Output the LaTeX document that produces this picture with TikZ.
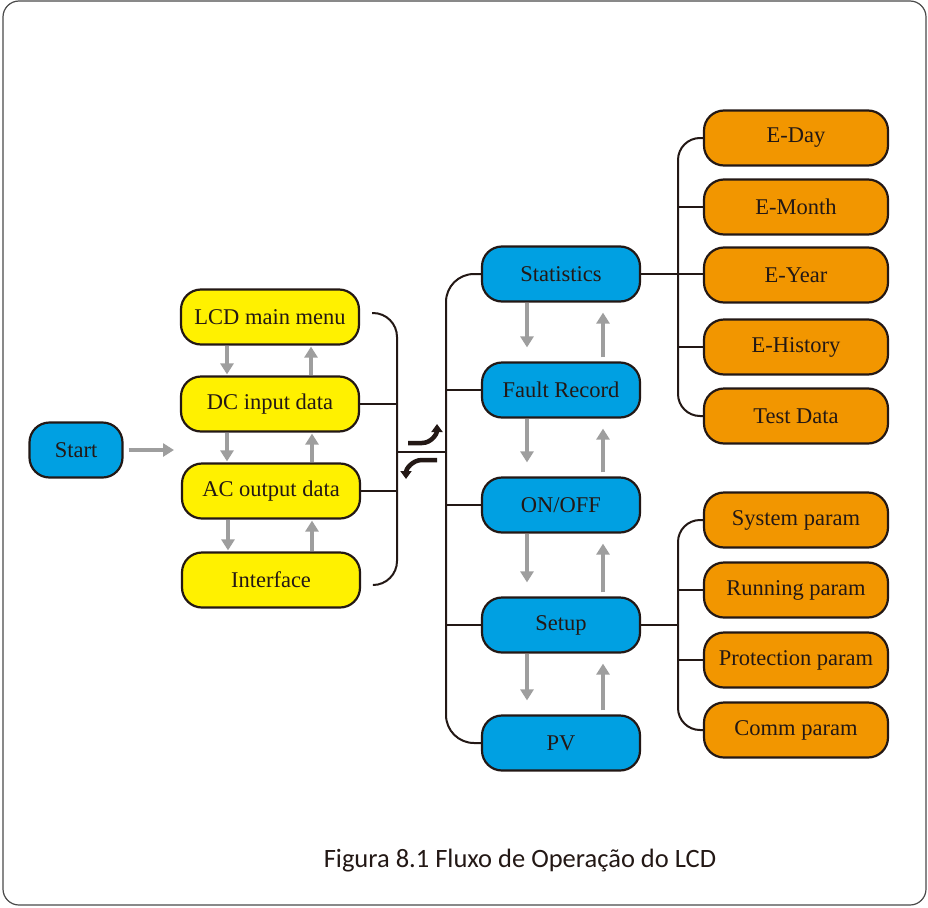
\documentclass[tikz,border=0pt]{standalone}
\usepackage{fontspec}
\setmainfont{Liberation Serif}
\newfontfamily\capfont{Carlito}
\usepackage{tikz}
\usetikzlibrary{calc,arrows.meta,positioning}
\usepackage{xcolor}
\definecolor{inkdark}{HTML}{231815}
\definecolor{lcdblue}{HTML}{00A0E2}
\definecolor{lcdyellow}{HTML}{FFF100}
\definecolor{lcdorange}{HTML}{F29600}
\definecolor{arrowgray}{HTML}{9E9E9E}
\definecolor{framegray}{HTML}{4A4A4A}
\begin{document}
\begin{tikzpicture}[x=1pt,y=-1pt,
    box/.style={draw=inkdark,line width=2.2pt,rounded corners=20pt,text=inkdark,
      font=\fontsize{22.5}{26}\selectfont,inner sep=0pt,minimum height=55pt},
    startbox/.style={box,fill=lcdblue,minimum width=93pt},
    menubox/.style={box,fill=lcdyellow,minimum width=178pt},
    itembox/.style={box,fill=lcdblue,minimum width=158pt},
    subbox/.style={box,fill=lcdorange,minimum width=184pt},
    brk/.style={draw=inkdark,line width=2pt},
    garrow/.style={draw=arrowgray,line width=4pt,-{Triangle[width=13pt,length=11pt]}},
    karrow/.style={draw=inkdark,line width=4.5pt,-{Triangle[width=11pt,length=8pt]}}]
    \useasboundingbox (0,0) rectangle (928,907);
    \draw[framegray,line width=1.2pt,rounded corners=16pt] (3,1) rectangle (926,905);

    \node[startbox] (start) at (76,450) {Start};
    \node[menubox] (lcd) at (270,317) {LCD main menu};
    \node[menubox] (dcin) at (270,404) {DC input data};
    \node[menubox] (acout) at (271,491) {AC output data};
    \node[menubox] (intf) at (271,580) {Interface};

    \node[itembox] (stat) at (561,274) {Statistics};
    \node[itembox] (fault) at (561,390) {Fault Record};
    \node[itembox] (onoff) at (561,505) {ON/OFF};
    \node[itembox] (setup) at (561,625) {Setup};
    \node[itembox] (pv) at (561,743) {PV};

    \node[subbox] (eday) at (796,138) {E-Day};
    \node[subbox] (emonth) at (796,207) {E-Month};
    \node[subbox] (eyear) at (796,275) {E-Year};
    \node[subbox] (ehist) at (796,347) {E-History};
    \node[subbox] (test) at (796,416) {Test Data};
    \node[subbox] (sysp) at (796,520) {System param};
    \node[subbox] (runp) at (796,590) {Running param};
    \node[subbox] (protp) at (796,660) {Protection param};
    \node[subbox] (commp) at (796,730) {Comm param};

    \coordinate (entry) at (174,450);
    \coordinate (lhub) at (397,452);
    \coordinate (rhub) at (446,452);
    \coordinate (shub) at (678,274);
    \coordinate (phub) at (678,625);

    \draw[garrow] ([xshift=5pt]start.east) -- (entry);
    \foreach \a/\b in {lcd/dcin,dcin/acout,acout/intf} {
        \draw[garrow,shorten >=1pt] ([xshift=-43pt]\a.south) -- ([xshift=-43pt]\a.south |- \b.north);
        \draw[garrow,shorten >=1pt] ([xshift=41pt]\b.north) -- ([xshift=41pt]\b.north |- \a.south);
    }
    \foreach \a/\b in {stat/fault,fault/onoff,onoff/setup,setup/pv} {
        \draw[garrow,shorten >=14pt] ([xshift=-34pt]\a.south) -- ([xshift=-34pt]\b.north);
        \draw[garrow,shorten <=4pt,shorten >=10pt] ([xshift=42pt]\b.north) -- ([xshift=42pt]\a.south);
    }

    \draw[brk,rounded corners=24pt] ([xshift=12pt,yshift=4pt]lcd.east) -| (lhub) |- ([xshift=12pt,yshift=-5pt]intf.east);
    \draw[brk] (dcin.east) -- (dcin.east -| lhub);
    \draw[brk] (acout.east) -- (acout.east -| lhub);
    \draw[brk] (lhub) -- (rhub);
    \draw[brk,rounded corners=28pt] (stat.west) -| (rhub) |- (pv.west);
    \foreach \n in {fault,onoff,setup}
        \draw[brk] (\n.west) -- (\n.west -| rhub);

    \draw[brk] (stat.east) -- (stat.east -| eyear.west);
    \draw[brk,rounded corners=22pt] (eday.west) -| (shub) |- (test.west);
    \foreach \n in {emonth,ehist}
        \draw[brk] (\n.west) -- (\n.west -| shub);
    \draw[brk] (setup.east) -- (phub);
    \draw[brk,rounded corners=22pt] (sysp.west) -| (phub) |- (commp.west);
    \foreach \n in {runp,protp}
        \draw[brk] (\n.west) -- (\n.west -| phub);

    \coordinate (upA) at (408,443);
    \coordinate (upB) at (437,424);
    \coordinate (dnA) at (437,460);
    \coordinate (dnB) at (406,479);
    \draw[karrow] (upA) -- ++(14,0) to[out=0,in=-90] (upB);
    \draw[karrow] (dnA) -- ++(-15,0) to[out=180,in=90] (dnB);

    \node[font=\capfont\fontsize{26.5}{30}\selectfont,text=inkdark] (caption) at (520,861) {Figura 8.1 Fluxo de Operação do LCD};
\end{tikzpicture}
\end{document}
